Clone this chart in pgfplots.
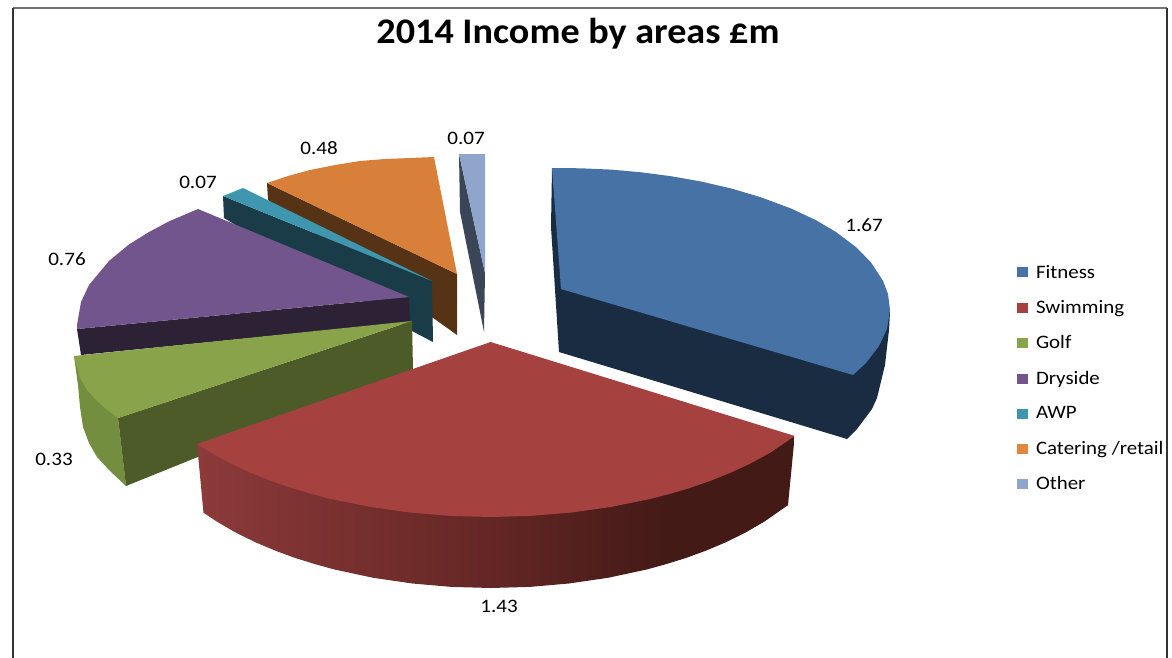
\documentclass[border=0pt]{standalone}
\usepackage{fontspec}
\setmainfont{Carlito}
\usepackage{pgfplots}
\pgfplotsset{compat=1.18}

\definecolor{fitnessTop}{HTML}{4672A6}
\definecolor{fitnessDark}{HTML}{1A2C42}
\definecolor{swimTop}{HTML}{A54240}
\definecolor{golfTop}{HTML}{88A34A}
\definecolor{golfRim}{HTML}{748E3F}
\definecolor{golfDark}{HTML}{4D5B29}
\definecolor{dryTop}{HTML}{71558C}
\definecolor{dryDark}{HTML}{2D2136}
\definecolor{awpTop}{HTML}{3F97AF}
\definecolor{awpDark}{HTML}{1A3C48}
\definecolor{caterTop}{HTML}{D87F3A}
\definecolor{caterDark}{HTML}{573316}
\definecolor{otherTop}{HTML}{8FA5CC}
\definecolor{otherDark}{HTML}{3B4558}
\definecolor{legendOrange}{HTML}{E0883F}

% shading of the curved wall of the Swimming slice
\pgfdeclarehorizontalshading{swimrim}{100bp}{
  rgb(0bp)=(0.549,0.227,0.227);
  rgb(25bp)=(0.549,0.227,0.227);
  rgb(50bp)=(0.388,0.149,0.141);
  rgb(64bp)=(0.267,0.102,0.090);
  rgb(100bp)=(0.267,0.102,0.090)}

% slightly widened text, as the labels are set in the chart
\newcommand{\wide}[1]{\scalebox{1.11}[1]{#1}}
\newcommand{\widekey}[1]{\scalebox{1.10}[1]{#1}}

\begin{document}
\begin{tikzpicture}
\useasboundingbox (0,0) rectangle (1172pt,658pt);
\begin{axis}[
  at={(0,0)}, anchor=south west,
  scale only axis, width=1172pt, height=658pt,
  xmin=0, xmax=1172, ymin=0, ymax=658, y dir=reverse,
  hide axis, clip=false,
  legend cell align=left,
  legend style={draw=none, fill=none, at={(axis cs:1017,263)}, anchor=north west,
    font=\fontsize{19}{22}\selectfont, row sep=16.8pt, inner sep=0pt, outer sep=0pt,
    /tikz/every even column/.append style={column sep=0pt}},
  legend image code/.code={\fill[#1,draw=none] (0pt,-5pt) rectangle (11pt,5pt); \path[draw=none,fill=none] (0pt,0pt) -- (17pt,0pt);},
]
% legend keys, in the order of the data series
\addlegendimage{fill=fitnessTop}\addlegendentry{\widekey{Fitness}}
\addlegendimage{fill=swimTop}\addlegendentry{\widekey{Swimming}}
\addlegendimage{fill=golfTop}\addlegendentry{\widekey{Golf}}
\addlegendimage{fill=dryTop}\addlegendentry{\widekey{Dryside}}
\addlegendimage{fill=awpTop}\addlegendentry{\widekey{AWP}}
\addlegendimage{fill=legendOrange}\addlegendentry{\widekey{Catering /retail}}
\addlegendimage{fill=otherTop}\addlegendentry{\widekey{Other}}

% chart frame (open at the bottom)
\addplot[forget plot, draw=black!55, line width=1.2pt] coordinates {(13,8) (1167,8)};
\addplot[forget plot, draw=black!80, line width=1.1pt] coordinates {(13,8) (13,658)};
\addplot[forget plot, draw=black!80, line width=1.1pt] coordinates {(1167,8) (1167,658)};

% Catering /retail
\addplot[forget plot, draw=none, fill=caterDark] coordinates {(267,183) (268,200) (457,335) (457,274)} --cycle;
\addplot[forget plot, draw=none, fill=caterTop] coordinates {(267,183) (288,176) (310,170) (335,165) (360,161) (385,159) (410,158) (434,157) (457,274)} --cycle;

% AWP
\addplot[forget plot, draw=none, fill=awpDark] coordinates {(223,196) (432,281) (433,342) (412,331) (224,218)} --cycle;
\addplot[forget plot, draw=none, fill=awpTop] coordinates {(223,196) (243,188) (432,281)} --cycle;

% Other
\addplot[forget plot, draw=none, fill=otherDark] coordinates {(459,154) (460,212) (484,332) (485,273)} --cycle;
\addplot[forget plot, draw=none, fill=otherTop] coordinates {(459,154) (485,154) (485,273)} --cycle;

% Dryside
\addplot[forget plot, draw=none, fill=dryDark] coordinates {(77,329) (409,297) (410,322) (81,355)} --cycle;
\addplot[forget plot, draw=none, fill=dryTop] coordinates {(198,209) (169,221.4) (149,232) (129,244.4) (109,261) (89,285) (81,302) (77,325) (77,329) (409,297)} --cycle;

% Golf
\addplot[forget plot, draw=none, fill=golfRim] coordinates {(74,356) (78,385) (80,407) (83,427) (89,443) (97,457) (110,471) (126,486) (118,418)} --cycle;
\addplot[forget plot, draw=none, fill=golfDark] coordinates {(118,418) (412,321) (413,370) (126,486)} --cycle;
\addplot[forget plot, draw=none, fill=golfTop] coordinates {(74,356) (77,367) (80,378) (87,390) (95,399) (106,409) (118,418) (412,321)} --cycle;

% Fitness
\addplot[forget plot, draw=none, fill=fitnessDark] coordinates {(552,168) (890,312) (889,330) (885,365) (877,398) (872,409) (857,429) (847,439) (559,352) (551,227)} --cycle;
\addplot[forget plot, draw=none, fill=fitnessTop] coordinates {(552,168) (581,168.3) (611,169.6) (641,172.3) (671,176.2) (701,181.5) (731,188.4) (761,197.3) (791,208.5) (816,220.2) (836,232) (856,247.1) (871,262.4) (883,280.9) (888,294) (890,310) (887,329) (879,346) (866,363) (853,375) (561,289)} --cycle;

% Swimming
\addplot[forget plot, draw=none, shading=swimrim] coordinates {
  (197,444) (794.7,436) (788,505.1) (764.4,521.6) (744.9,532.9) (725.3,542.5) (705.8,550.7) (686.2,557.9)
  (666.6,564) (647.1,569.4) (608,577.8) (568.8,583.5) (529.7,586.9) (490.6,588) (451.5,586.9) (412.4,583.5)
  (373.2,577.8) (334.1,569.4) (314.6,564) (295,557.9) (275.4,550.7) (255.9,542.5) (236.3,532.9) (216.8,521.6) (203.5,512.7)} --cycle;
\addplot[forget plot, draw=none, fill=swimTop] coordinates {
  (490.6,342) (794.7,436) (770.6,452.5) (750.6,463.4) (730.6,472.7) (710.6,480.8) (690.6,487.7) (670.6,493.7)
  (650.6,498.9) (610.6,507) (570.6,512.6) (530.6,515.9) (490.6,517) (450.6,515.9) (410.6,512.6) (370.6,507)
  (330.6,498.9) (310.6,493.7) (290.6,487.7) (270.6,480.8) (250.6,472.7) (230.6,463.4) (210.6,452.5) (197,444)} --cycle;

% title and data labels
\node[font=\fontsize{36}{42}\selectfont\bfseries] at (axis cs:578,34) {\scalebox{1.06}[1]{2014 Income by areas £m}};
\node[font=\fontsize{19}{22}\selectfont] at (axis cs:864,225) {\wide{1.67}};
\node[font=\fontsize{19}{22}\selectfont] at (axis cs:499,606) {\wide{1.43}};
\node[font=\fontsize{19}{22}\selectfont] at (axis cs:54,459) {\wide{0.33}};
\node[font=\fontsize{19}{22}\selectfont] at (axis cs:67,259) {\wide{0.76}};
\node[font=\fontsize{19}{22}\selectfont] at (axis cs:198,182) {\wide{0.07}};
\node[font=\fontsize{19}{22}\selectfont] at (axis cs:319,148) {\wide{0.48}};
\node[font=\fontsize{19}{22}\selectfont] at (axis cs:466,138) {\wide{0.07}};
\end{axis}
\end{tikzpicture}
\end{document}
